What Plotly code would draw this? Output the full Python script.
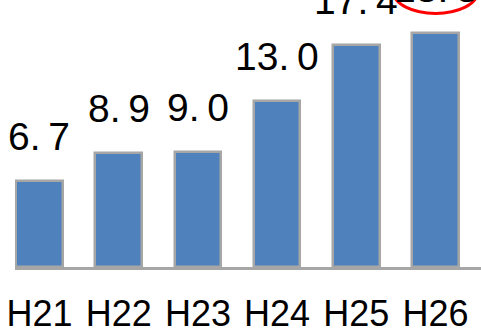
import plotly.graph_objects as go

# Fiscal years (Heisei era) and values
years = ["H21", "H22", "H23", "H24", "H25", "H26"]
values = [6.7, 8.9, 9.0, 13.0, 17.4, 18.3]

BAR_FILL = "#4F81BD"
BAR_EDGE = "#A6A6A6"
FONT = "Liberation Sans, Arial, sans-serif"


def fmt(v):
    return f"{v:.1f}".replace(".", ".\u2009")


fig = go.Figure(
    go.Bar(
        x=list(range(len(years))),
        y=values,
        width=0.59,
        marker=dict(color=BAR_FILL, line=dict(color=BAR_EDGE, width=2.5)),
        hoverinfo="skip",
    )
)

# value labels above each bar
for i, v in enumerate(values):
    fig.add_annotation(
        x=i, y=v, text=fmt(v), showarrow=False,
        yanchor="bottom", yshift=21,
        font=dict(family=FONT, size=39, color="black"),
    )

# red ring highlighting the latest year's value
last = len(values) - 1
fig.add_shape(
    type="circle", xref="x", yref="y",
    x0=last - 0.53, x1=last + 0.53,
    y0=values[last] + 1.55, y1=values[last] + 4.9,
    line=dict(color="#FF0000", width=3),
)

fig.update_layout(
    width=481, height=334,
    margin=dict(l=15, r=0, t=0, b=67),
    paper_bgcolor="white", plot_bgcolor="white",
    showlegend=False,
    bargap=0,
)
fig.update_xaxes(
    range=[-0.309, 5.574],
    tickmode="array", tickvals=list(range(len(years))), ticktext=years,
    tickfont=dict(family=FONT, size=36, color="black"),
    tickangle=0, automargin=False, ticklabelstandoff=13,
    showline=True, linecolor=BAR_EDGE, linewidth=3,
    showgrid=False, ticks="", zeroline=False,
)
fig.update_yaxes(
    range=[0, 20.9], visible=False, showgrid=False, zeroline=False,
)

fig.write_html("out.html")
